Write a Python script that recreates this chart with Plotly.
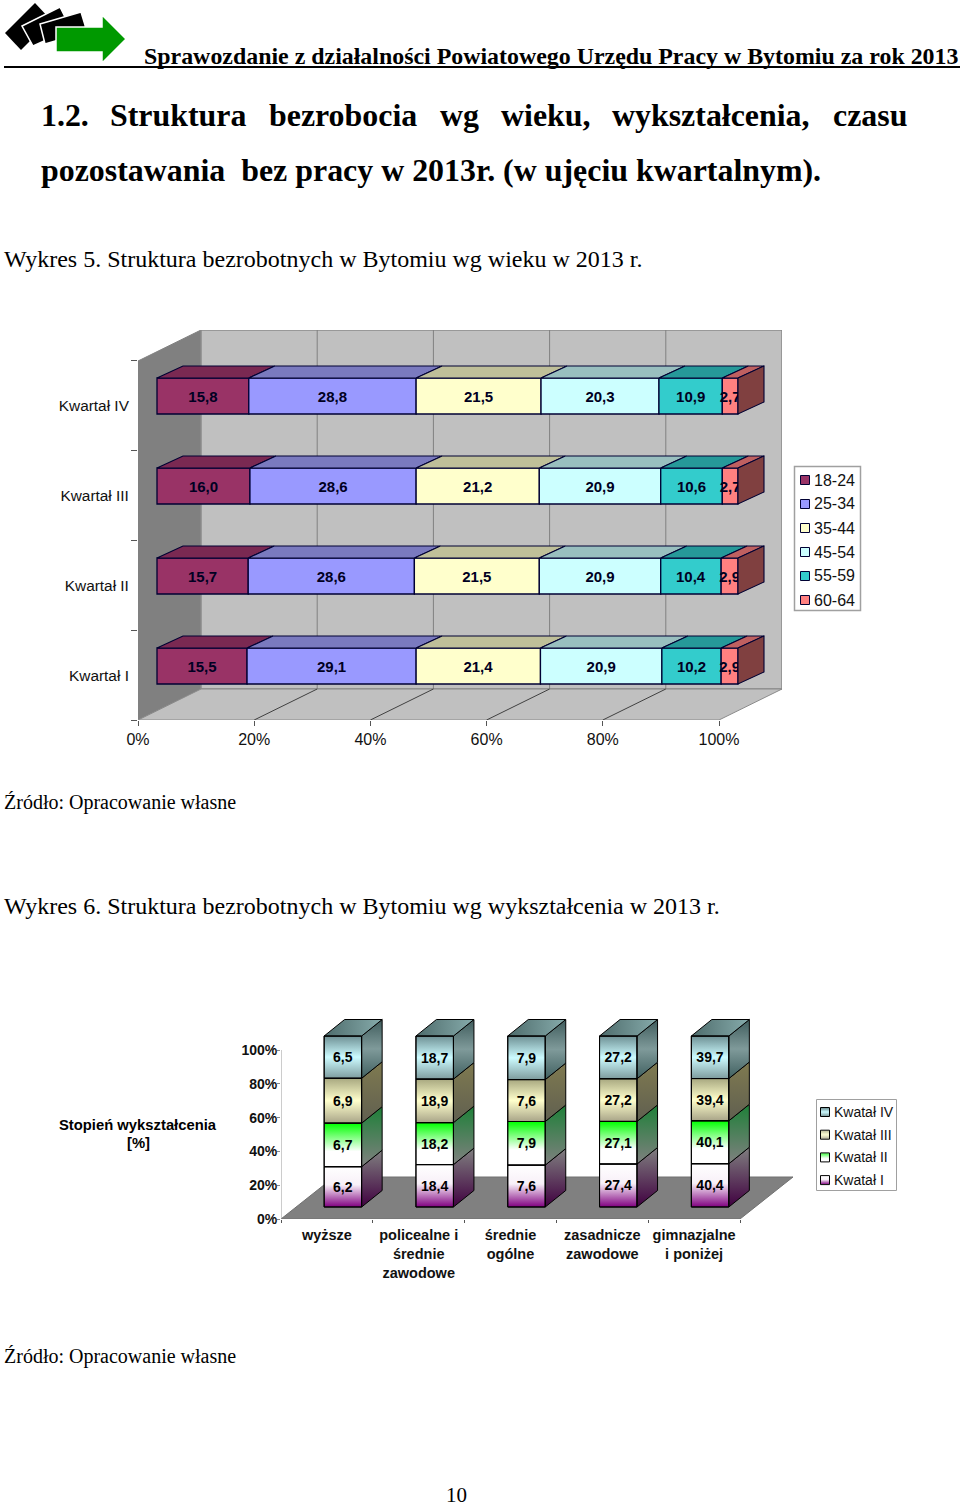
import plotly.graph_objects as go

W, H = 960, 1507

# ---------- data ----------
age_groups = ["18-24", "25-34", "35-44", "45-54", "55-59", "60-64"]
quarters_q = ["Kwartał I", "Kwartał II", "Kwartał III", "Kwartał IV"]
age_q1 = [15.5, 29.1, 21.4, 20.9, 10.2, 2.9]
age_q2 = [15.7, 28.6, 21.5, 20.9, 10.4, 2.9]
age_q3 = [16.0, 28.6, 21.2, 20.9, 10.6, 2.7]
age_q4 = [15.8, 28.8, 21.5, 20.3, 10.9, 2.7]
age_ticks = [0, 20, 40, 60, 80, 100]

edu_categories = ["wyższe", "policealne i<br>średnie<br>zawodowe", "średnie<br>ogólne",
                  "zasadnicze<br>zawodowe", "gimnazjalne<br>i poniżej"]
edu_q1 = [6.2, 18.4, 7.6, 27.4, 40.4]
edu_q2 = [6.7, 18.2, 7.9, 27.1, 40.1]
edu_q3 = [6.9, 18.9, 7.6, 27.2, 39.4]
edu_q4 = [6.5, 18.7, 7.9, 27.2, 39.7]
edu_series = ["Kwatał I", "Kwatał II", "Kwatał III", "Kwatał IV"]
edu_ticks = [0, 20, 40, 60, 80, 100]

# ---------- styles ----------
SANS = "Liberation Sans"
SERIF = "Liberation Serif"
age_front = ["#993366", "#9999FF", "#FFFFCC", "#CCFFFF", "#33CCCC", "#FF8080"]
age_top = ["#7A2952", "#7A7ABF", "#BFBF99", "#99BFBF", "#269999", "#BF6060"]
AGE_SIDE = "#804040"
AGE_EDGE = "#000033"
edu_grad = [
    [[0, "#800080"], [0.55, "#F8F0F8"], [1, "#FFFFFF"]],
    [[0, "#FFFFFF"], [0.35, "#FFFFFF"], [1, "#00FF00"]],
    [[0, "#A8A488"], [0.5, "#FFFFCC"], [1, "#A8A880"]],
    [[0, "#7E9C9E"], [0.5, "#CCFBFF"], [1, "#6E9094"]],
]
edu_side = [
    [[0, "#400040"], [1, "#808080"]],
    [[0, "#808080"], [1, "#1E8038"]],
    [[0, "#605F50"], [1, "#7F7A50"]],
    [[0, "#406060"], [0.5, "#7F9A9A"], [1, "#3F5C5C"]],
]
EDU_TOP = [[0, "#4E6C6C"], [1, "#86ABAB"]]

fig = go.Figure()
shapes, annos = [], []


def px(x):
    return x / W


def py(y):
    return 1 - y / H


def text(x, y, s, size, family=SERIF, bold=False, anchor="left", color="#000000"):
    annos.append(dict(xref="paper", yref="paper", x=px(x), y=py(y), text=f"<b>{s}</b>" if bold else s,
                      showarrow=False, xanchor=anchor, yanchor="middle", align="center",
                      font=dict(family=family, size=size, color=color), borderpad=0, borderwidth=0))


def paper_poly(points, color, edge=None, lw=0):
    d = "M" + "L".join(f"{px(a):.5f},{py(b):.5f}" for a, b in points) + "Z"
    shapes.append(dict(type="path", xref="paper", yref="paper", path=d, fillcolor=color,
                       line=dict(width=lw, color=edge or color), layer="above"))


def paper_rect(x0, y0, x1, y1, fill, line=None, lw=1):
    shapes.append(dict(type="rect", xref="paper", yref="paper", x0=px(x0), x1=px(x1), y0=py(y0), y1=py(y1),
                       fillcolor=fill, line=dict(width=lw if line else 0, color=line or fill), layer="above"))


def data_path(xa, ya, pts, fill, line="rgba(0,0,0,0)", lw=0):
    d = "M" + "L".join(f"{a:.4f},{b:.4f}" for a, b in pts) + "Z"
    shapes.append(dict(type="path", xref=xa, yref=ya, path=d, fillcolor=fill,
                       line=dict(width=lw, color=line), layer="below"))


def data_line(xa, ya, p, q, color, lw=1):
    shapes.append(dict(type="line", xref=xa, yref=ya, x0=p[0], y0=p[1], x1=q[0], y1=q[1],
                       line=dict(width=lw, color=color), layer="below"))


def poly(xa, ya, pts, fill=None, edge="#000000", lw=1.2, grad=None, **kw):
    xs = [p[0] for p in pts] + [pts[0][0]]
    ys = [p[1] for p in pts] + [pts[0][1]]
    tr = dict(x=xs, y=ys, xaxis=xa, yaxis=ya, mode="lines", fill="toself", hoverinfo="skip",
              showlegend=False, line=dict(color=edge, width=lw))
    if grad:
        tr["fillgradient"] = grad
    else:
        tr["fillcolor"] = fill
    fig.add_trace(go.Scatter(**tr, **kw))


def lerp_hex(scale, t):
    for (t0, c0), (t1, c1) in zip(scale, scale[1:]):
        if t <= t1:
            f = (t - t0) / (t1 - t0) if t1 > t0 else 0
            a = [int(c0[i:i + 2], 16) for i in (1, 3, 5)]
            b = [int(c1[i:i + 2], 16) for i in (1, 3, 5)]
            return "#" + "".join(f"{round(u + (v - u) * f):02X}" for u, v in zip(a, b))
    return scale[-1][1]


# ---------- page furniture ----------
paper_poly([(5, 33), (35, 3), (51, 20), (21, 50)], "#000000")
paper_poly([(22, 26), (60, 7), (71, 29), (33, 46)], "#000000", "#FFFFFF", 1.5)
paper_poly([(40, 24), (81, 12), (85, 25), (86, 32), (45, 44)], "#000000", "#FFFFFF", 1.5)
paper_poly([(56, 27), (102, 27), (102, 15), (126, 39), (102, 63), (102, 52), (56, 52)], "#009900", "#FFFFFF", 1.5)
paper_rect(4, 66, 960, 68, "#000000")
text(144, 56, "Sprawozdanie z działalności Powiatowego Urzędu Pracy w Bytomiu za rok 2013", 23.9, bold=True)
for x, w in zip([41, 110, 269, 440, 501, 612, 833],
                ["1.2.", "Struktura", "bezrobocia", "wg", "wieku,", "wykształcenia,", "czasu"]):
    text(x, 115, w, 31.9, bold=True)
text(41, 170, "pozostawania\u00a0 bez pracy w 2013r. (w ujęciu kwartalnym).", 31.9, bold=True)
text(4, 259, "Wykres 5. Struktura bezrobotnych w Bytomiu wg wieku w 2013 r.", 24)
text(4, 802, "Źródło: Opracowanie własne", 20)
text(4, 906, "Wykres 6. Struktura bezrobotnych w Bytomiu wg wykształcenia w 2013 r.", 24)
text(4, 1356, "Źródło: Opracowanie własne", 20)
text(456, 1495, "10", 21, anchor="center")

# ---------- chart 1: age ----------
X_PX, Y_PX = 5.81, 90.0
A_LEFT, A_RIGHT, A_TOP, A_BOTTOM = 138, 782, 330, 720
WALL_X, WALL_Y = 63 / X_PX, 31 / Y_PX
BASE_X = 19 / X_PX
DEPTH_X, DEPTH_Y = 26 / X_PX, 12 / Y_PX
Y_POS = [0.6, 1.6, 2.6, 3.6]
BAR_H = 0.4
top_y = (A_BOTTOM - A_TOP) / Y_PX

data_path("x", "y", [(0, 0), (WALL_X, WALL_Y), (WALL_X, top_y), (0, top_y - WALL_Y)], "#808080", "#808080", 1)
data_path("x", "y", [(WALL_X, WALL_Y), (100 + WALL_X, WALL_Y), (100 + WALL_X, top_y), (WALL_X, top_y)],
          "#C0C0C0", "#8A8A8A", 1.5)
data_path("x", "y", [(0, 0), (100, 0), (100 + WALL_X, WALL_Y), (WALL_X, WALL_Y)], "#C0C0C0", "#8A8A8A", 1)
for t in age_ticks[1:-1]:
    data_line("x", "y", (t + WALL_X, WALL_Y), (t + WALL_X, top_y), "#808080", 1)
    data_line("x", "y", (t, 0), (t + WALL_X, WALL_Y), "#404040", 1)

rows = [age_q1, age_q2, age_q3, age_q4]
for s, name in enumerate(age_groups):
    bases, vals = [], []
    for row in rows:
        bases.append(BASE_X + sum(row[:s]))
        vals.append(row[s])
    fig.add_trace(go.Bar(name=name, orientation="h", y=Y_POS, x=vals, base=bases, width=BAR_H,
                         xaxis="x", yaxis="y", showlegend=False, hoverinfo="skip",
                         marker=dict(color=age_front[s], line=dict(color=AGE_EDGE, width=1.3)),
                         text=[f"{v:.1f}".replace(".", ",") for v in vals], textposition="inside",
                         insidetextanchor="middle", constraintext="none", textangle=0, cliponaxis=False,
                         textfont=dict(family=SANS, size=15, color="#000022", weight="bold")))
for yc, row in zip(Y_POS, rows):
    cum = BASE_X
    ytop = yc + BAR_H / 2
    for s, v in enumerate(row):
        poly("x", "y", [(cum, ytop), (cum + v, ytop), (cum + v + DEPTH_X, ytop + DEPTH_Y), (cum + DEPTH_X, ytop + DEPTH_Y)],
             age_top[s], AGE_EDGE, 1.1)
        cum += v
    poly("x", "y", [(cum, ytop), (cum + DEPTH_X, ytop + DEPTH_Y), (cum + DEPTH_X, ytop + DEPTH_Y - BAR_H), (cum, ytop - BAR_H)],
         AGE_SIDE, AGE_EDGE, 1.1)

# legend 1
paper_rect(794.5, 466.5, 860.5, 610.5, "#FFFFFF", "#A0A0A0", 1.5)
for i, (name, c) in enumerate(zip(age_groups, age_front)):
    yy = 480 + 24 * i
    paper_rect(800.5, yy - 4.5, 809.5, yy + 4.5, c, "#000033", 1)
    text(814, yy, name, 16, SANS, color="#111111")

# ---------- chart 2: education ----------
CAT_PX, PCT_PX = 91.8, 1.69
B_LEFT, B_RIGHT, B_TOP, B_BOTTOM = 281, 793, 1018, 1219
x_max = (B_RIGHT - B_LEFT) / CAT_PX - 0.5
y_max = (B_BOTTOM - B_TOP) / PCT_PX
FLOOR_X, FLOOR_Y = 53 / CAT_PX, 42 / PCT_PX
C_OFF = 16 / CAT_PX
C_W = 37.5 / CAT_PX
C_BASE = 12 / PCT_PX
C_SCALE = 171 / 169
C_DX, C_DY = 20.5 / CAT_PX, 16.5 / PCT_PX
X_CAT = list(range(len(edu_categories)))

data_path("x2", "y2", [(-0.5, 0), (4.5, 0), (4.5 + FLOOR_X, FLOOR_Y), (-0.5 + FLOOR_X, FLOOR_Y)], "#808080", "#707070", 1)
data_line("x2", "y2", (-0.5, 0), (-0.5, 100), "#9A9A9A", 1)

edu_rows = [edu_q1, edu_q2, edu_q3, edu_q4]
totals = [sum(r[i] for r in edu_rows) for i in X_CAT]
for i in X_CAT:
    cum = 0.0
    xl = i + C_OFF - C_W / 2
    xr = xl + C_W
    for s, row in enumerate(edu_rows):
        h = row[i] / totals[i] * 100 * C_SCALE
        y0, y1 = C_BASE + cum, C_BASE + cum + h
        poly("x2", "y2", [(xl, y0), (xr, y0), (xr, y1), (xl, y1)], edge="#000000", lw=1,
             grad=dict(type="vertical", colorscale=edu_grad[s], start=y0, stop=y1))
        poly("x2", "y2", [(xr, y0), (xr + C_DX, y0 + C_DY), (xr + C_DX, y1 + C_DY), (xr, y1)], edge="#000000", lw=1,
             grad=dict(type="vertical", colorscale=edu_side[s], start=y0, stop=y1 + C_DY))
        cum += h
    yt = C_BASE + cum
    poly("x2", "y2", [(xl, yt), (xr, yt), (xr + C_DX, yt + C_DY), (xl + C_DX, yt + C_DY)], edge="#000000", lw=1,
         grad=dict(type="horizontal", colorscale=EDU_TOP, start=xl, stop=xr + C_DX))

for s, (name, row) in enumerate(zip(edu_series, edu_rows)):
    shares = [row[i] / totals[i] * 100 * C_SCALE for i in X_CAT]
    bases = [C_BASE + sum(edu_rows[k][i] / totals[i] * 100 * C_SCALE for k in range(s)) for i in X_CAT]
    fig.add_trace(go.Bar(name=name, x=[i + C_OFF for i in X_CAT], y=shares, base=bases, width=C_W,
                         xaxis="x2", yaxis="y2", showlegend=False, hoverinfo="skip", zorder=1,
                         marker=dict(color="rgba(0,0,0,0)", line=dict(color="#000000", width=1)),
                         text=[f"{v:.1f}".replace(".", ",") for v in row], textposition="inside",
                         insidetextanchor="middle", constraintext="none", textangle=0, cliponaxis=False,
                         textfont=dict(family=SANS, size=14, color="#000000", weight="bold")))

text(138, 1125, "Stopień wykształcenia", 14.8, SANS, bold=True, anchor="center")
text(138, 1143, "[%]", 14.8, SANS, bold=True, anchor="center")

# legend 2
paper_rect(816.5, 1099.5, 896.5, 1190.5, "#FFFFFF", "#A0A0A0", 1)
for i, s in enumerate([3, 2, 1, 0]):
    yy = 1112 + 22.7 * i
    n = 8
    for k in range(n):
        t = 1 - (k + 0.5) / n
        paper_rect(820.5, yy - 4 + k, 829.5, yy - 3 + k, lerp_hex(edu_grad[s], t))
    paper_rect(820.5, yy - 4.5, 829.5, yy + 4.5, "rgba(0,0,0,0)", "#000000", 1)
    text(834, yy, edu_series[s], 14, SANS, color="#111111")

# ---------- layout ----------
axis_font = dict(family=SANS, size=16, color="#111111")
bold_font = dict(family=SANS, size=14, color="#111111", weight="bold")
cat_font = dict(family=SANS, size=14.5, color="#111111", weight="bold")
fig.update_layout(
    width=W, height=H, margin=dict(l=0, r=0, t=0, b=0, autoexpand=False), autosize=False,
    paper_bgcolor="#FFFFFF", plot_bgcolor="rgba(0,0,0,0)", barmode="overlay", showlegend=False,
    shapes=shapes, annotations=annos,
    xaxis=dict(domain=[px(A_LEFT), px(A_RIGHT)], range=[0, (A_RIGHT - A_LEFT) / X_PX], anchor="y",
               tickvals=age_ticks, ticktext=[f"{t}%" for t in age_ticks], ticks="outside", ticklen=5,
               tickcolor="#555555", tickfont=axis_font, showgrid=False, zeroline=False, showline=False),
    yaxis=dict(domain=[py(A_BOTTOM), py(A_TOP)], range=[0, top_y], anchor="x",
               tickvals=[0.49, 1.49, 2.49, 3.49], ticktext=quarters_q, ticks="outside", ticklen=5,
               tickcolor="rgba(0,0,0,0)", tickfont=dict(family=SANS, size=15.4, color="#111111"),
               minor=dict(tickvals=[0, 1, 2, 3, 4], ticks="outside", ticklen=6, tickcolor="#555555"),
               showgrid=False, zeroline=False, showline=False),
    xaxis2=dict(domain=[px(B_LEFT), px(B_RIGHT)], range=[-0.5, x_max], anchor="y2",
                tickvals=X_CAT, ticktext=edu_categories, ticks="outside", ticklen=3,
                tickcolor="rgba(0,0,0,0)", tickfont=cat_font,
                minor=dict(tickvals=[i - 0.5 for i in range(6)], ticks="outside", ticklen=3, tickcolor="#555555"),
                showgrid=False, zeroline=False, showline=False),
    yaxis2=dict(domain=[py(B_BOTTOM), py(B_TOP)], range=[0, y_max], anchor="x2",
                tickvals=edu_ticks, ticktext=[f"{t}%" for t in edu_ticks], ticks="outside", ticklen=3,
                ticklabelstandoff=-3,
                tickcolor="#888888", tickfont=bold_font, showgrid=False, zeroline=False, showline=False),
)

fig.write_html("out.html", config=dict(displayModeBar=False),
               post_script="document.body.style.margin='0';document.body.style.overflow='hidden';")
